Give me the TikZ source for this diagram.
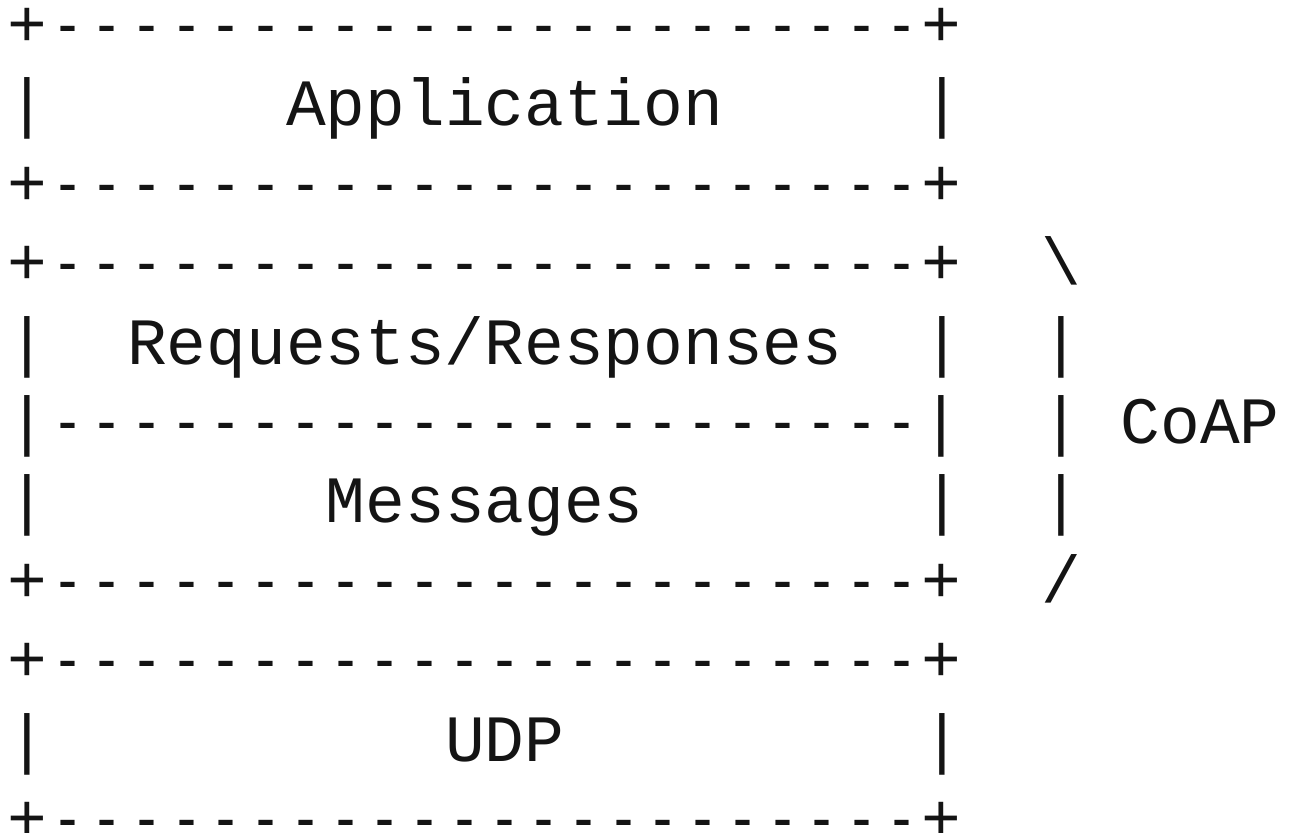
\documentclass[tikz,border=0pt]{standalone}
\usepackage{fontspec}
\usepackage{graphicx}
\setmonofont{Liberation Mono}
\newcommand\dsh{\makebox[0.6em]{\scalebox{0.78}[1]{-}}}
\newcommand\dashrun{\dsh\dsh\dsh\dsh\dsh\dsh\dsh\dsh\dsh\dsh\dsh\dsh\dsh\dsh\dsh\dsh\dsh\dsh\dsh\dsh\dsh\dsh}
\begin{document}
\begin{tikzpicture}[
  asc/.style={anchor=base west, inner sep=0pt, outer sep=0pt, font=\ttfamily\fontsize{33.1pt}{39.7pt}\selectfont, text=black!92}
]
\useasboundingbox (0pt,0pt) rectangle (648pt,-416.5pt);
\begin{scope}[shift={(4pt,-23.25pt)}, x=19.87pt, y=-39.7pt]
\def\hline{+\dashrun+}
\def\mline{|\dashrun|}
% rows 0-2: Application
\node[asc] (r0)  at (0,0) {\hline};
\node[asc] (l1)  at (0,1) {|};
\node[asc] (app) at (7,1) {Application};
\node[asc] (r1)  at (23,1) {|};
\node[asc] (r2)  at (0,2) {\hline};
% rows 3-7: CoAP
\node[asc] (r3)  at (0,3) {\hline};
\node[asc] (b3)  at (26,3) {\textbackslash};
\node[asc] (l4)  at (0,4) {|};
\node[asc] (req) at (3,4) {Requests/Responses};
\node[asc] (r4)  at (23,4) {|};
\node[asc] (b4)  at (26,4) {|};
\node[asc] (r5)  at (0,5) {\mline};
\node[asc] (b5)  at (26,5) {|};
\node[asc] (coap) at (28,5) {CoAP};
\node[asc] (l6)  at (0,6) {|};
\node[asc] (msg) at (8,6) {Messages};
\node[asc] (r6)  at (23,6) {|};
\node[asc] (b6)  at (26,6) {|};
\node[asc] (r7)  at (0,7) {\hline};
\node[asc] (b7)  at (26,7) {/};
% rows 8-10: UDP
\node[asc] (r8)  at (0,8) {\hline};
\node[asc] (l9)  at (0,9) {|};
\node[asc] (udp) at (11,9) {UDP};
\node[asc] (r9)  at (23,9) {|};
\node[asc] (r10) at (0,10) {\hline};
\end{scope}
\end{tikzpicture}
\end{document}
